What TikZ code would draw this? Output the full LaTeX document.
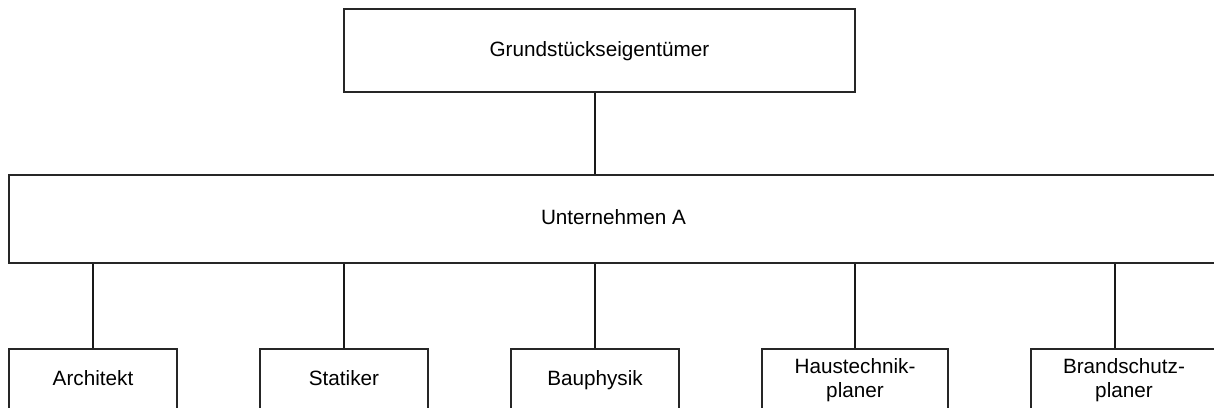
\documentclass[tikz,border=0pt]{standalone}
\usepackage{fontspec}
\setmainfont{Liberation Sans}
\begin{document}
\begin{tikzpicture}[x=1pt,y=-1pt,
  box/.style={draw=black!85, line width=1.1pt, rectangle, inner sep=0pt,
    align=center, font=\fontsize{20.7}{24}\selectfont},
  onerow/.style={text height=1.25em, text depth=0.1em},
  member/.style={box, minimum height=62pt},
  link/.style={draw=black!90, line width=1.3pt}]
\useasboundingbox (0,0) rectangle (1214,407);
\clip (0,0) rectangle (1214,407);

% owner and general contractor
\node[box, onerow, minimum width=511pt, minimum height=83pt] (owner) at (599.5,50.5) {Grundstückseigentümer};
\node[box, onerow, minimum width=1209pt, minimum height=88pt] (firm) at (613.5,219) {Unternehmen A};

% planners
\node[member, onerow, minimum width=168pt] (arch) at (93,380) {Architekt};
\node[member, onerow, minimum width=168pt] (stat) at (344,380) {Statiker};
\node[member, onerow, minimum width=168pt] (bau)  at (595,380) {Bauphysik};
\node[member, minimum width=186pt] (haus) at (855,380) {Haustechnik-\\planer};
\node[member, minimum width=186pt] (brand) at (1124,380) {Brandschutz-\\planer};

% connectors
\draw[link] (bau.north |- owner.south) -- (bau.north |- firm.north);
\foreach \n in {arch,stat,bau,haus}
  \draw[link] (\n.north |- firm.south) -- (\n.north);
\draw[link] ([xshift=-9pt]brand.north |- firm.south) -- ([xshift=-9pt]brand.north);
\end{tikzpicture}
\end{document}
